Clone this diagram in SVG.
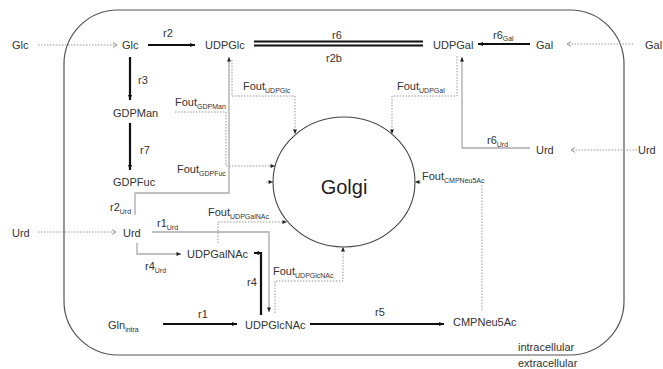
<svg xmlns="http://www.w3.org/2000/svg" width="663" height="369" viewBox="0 0 663 369">
<defs>
<style>
text{font-family:"Liberation Sans",Arial,sans-serif;font-size:11px;fill:#333}
.sub{font-size:7px}
.rx{stroke:#111;stroke-width:2.2;fill:none}
.gr{stroke:#aaa;stroke-width:1.3;fill:none}
.dt{stroke:#999;stroke-width:1;stroke-dasharray:1.5 1.5;fill:none}
</style>
<marker id="ah" markerUnits="userSpaceOnUse" markerWidth="7" markerHeight="7" viewBox="0 0 7 7" refX="6.5" refY="3.5" orient="auto"><path d="M1.5,1.5 L6.5,3.5 L1.5,5.5 Z" fill="#111"/></marker>
<marker id="as" markerUnits="userSpaceOnUse" markerWidth="6" markerHeight="6" viewBox="0 0 6 6" refX="5.5" refY="3" orient="auto"><path d="M1,1 L5.5,3 L1,5 Z" fill="#222"/></marker>
<marker id="ch" markerUnits="userSpaceOnUse" markerWidth="8" markerHeight="8" viewBox="0 0 8 8" refX="6" refY="4" orient="auto"><path d="M2,1.5 L6,4 L2,6.5" fill="none" stroke="#999" stroke-width="1"/></marker>
</defs>
<rect width="663" height="369" fill="#fff"/>
<rect id="cell" x="64" y="10" width="560" height="345" rx="54" ry="54" fill="#fff" stroke="#555" stroke-width="1.2"/>
<g id="connectors">
<line class="rx" x1="148" y1="45" x2="195" y2="45" marker-end="url(#ah)"/>
<line class="rx" x1="130" y1="57" x2="130" y2="100" marker-end="url(#ah)"/>
<line class="rx" x1="130" y1="123" x2="130" y2="170" marker-end="url(#ah)"/>
<line stroke="#111" stroke-width="2" x1="254" y1="41.5" x2="423" y2="41.5"/>
<line stroke="#111" stroke-width="2" x1="254" y1="45.5" x2="423" y2="45.5"/>
<line class="rx" x1="530" y1="44" x2="478" y2="44" marker-end="url(#ah)"/>
<path class="rx" d="M261,315 V253 H254" marker-end="url(#ah)"/>
<line class="rx" x1="163" y1="324" x2="237" y2="324" marker-end="url(#ah)"/>
<line class="rx" x1="310" y1="324" x2="444" y2="324" marker-end="url(#ah)"/>
<path class="gr" d="M135,215 V193 H229 V57" marker-end="url(#as)"/>
<path class="gr" d="M152,232 H269 V312" marker-end="url(#as)"/>
<path class="gr" d="M137,243 V254 H181" marker-end="url(#as)"/>
<path class="gr" d="M530,148 H462 V57" marker-end="url(#as)"/>
<path class="dt" d="M232,60 V96 H295 V134" marker-end="url(#as)"/>
<path class="dt" d="M457,56 V96 H392 V134" marker-end="url(#as)"/>
<path class="dt" d="M175,112 H226 V166 H275" marker-end="url(#as)"/>
<path class="dt" d="M266,182 H273" marker-end="url(#as)"/>
<path class="dt" d="M218,243 V222 H287" marker-end="url(#as)"/>
<path class="dt" d="M275,313 V281 H343 V247" marker-end="url(#as)"/>
<path class="dt" d="M482,310 V185"/>
<path class="dt" d="M421,182 H415" marker-end="url(#as)"/>
<line class="dt" x1="38" y1="45" x2="117" y2="45" marker-end="url(#ch)"/>
<line class="dt" x1="633" y1="44" x2="567" y2="44" marker-end="url(#ch)"/>
<line class="dt" x1="38" y1="232" x2="116" y2="232" marker-end="url(#ch)"/>
<line class="dt" x1="637" y1="150" x2="571" y2="150" marker-end="url(#ch)"/>
</g>
<g id="golgi"><ellipse cx="344" cy="182" rx="71" ry="65" fill="#fff" stroke="#444" stroke-width="1.1"/><text x="344" y="194" text-anchor="middle" style="font-size:20px;fill:#222">Golgi</text></g>
<g id="glc-ext"><text x="12" y="49">Glc</text></g>
<g id="glc"><text x="122" y="49">Glc</text></g>
<g id="udpglc"><text x="205" y="49">UDPGlc</text></g>
<g id="udpgal"><text x="433" y="49">UDPGal</text></g>
<g id="gal"><text x="536" y="49">Gal</text></g>
<g id="gal-ext"><text x="645" y="49">Gal</text></g>
<g id="gdpman"><text x="113" y="117">GDPMan</text></g>
<g id="gdpfuc"><text x="113" y="186">GDPFuc</text></g>
<g id="urd-ext"><text x="12" y="237">Urd</text></g>
<g id="urd"><text x="123" y="237">Urd</text></g>
<g id="urd-r"><text x="536" y="154">Urd</text></g>
<g id="urd-r-ext"><text x="638" y="154">Urd</text></g>
<g id="udpgalnac"><text x="187" y="258">UDPGalNAc</text></g>
<g id="udpglcnac"><text x="245" y="329">UDPGlcNAc</text></g>
<g id="gln"><text x="108" y="329">Gln<tspan class="sub" dy="3">intra</tspan></text></g>
<g id="cmp"><text x="453" y="326">CMPNeu5Ac</text></g>
<g id="labels">
<text x="163" y="37">r2</text>
<text x="337" y="39" text-anchor="middle">r6</text>
<text x="334" y="62" text-anchor="middle">r2b</text>
<text x="493" y="39">r6<tspan class="sub" dy="2">Gal</tspan></text>
<text x="138" y="84">r3</text>
<text x="140" y="154">r7</text>
<text x="175" y="106">Fout<tspan class="sub" dy="3">GDPMan</tspan></text>
<text x="177" y="173">Fout<tspan class="sub" dy="3">GDPFuc</tspan></text>
<text x="243" y="90">Fout<tspan class="sub" dy="3">UDPGlc</tspan></text>
<text x="397" y="90">Fout<tspan class="sub" dy="3">UDPGal</tspan></text>
<text x="487" y="144">r6<tspan class="sub" dy="3">Urd</tspan></text>
<text x="422" y="180">Fout<tspan class="sub" dy="3">CMPNeu5Ac</tspan></text>
<text x="110" y="211">r2<tspan class="sub" dy="3">Urd</tspan></text>
<text x="157" y="227">r1<tspan class="sub" dy="3">Urd</tspan></text>
<text x="208" y="216">Fout<tspan class="sub" dy="3">UDPGalNAc</tspan></text>
<text x="145" y="270">r4<tspan class="sub" dy="3">Urd</tspan></text>
<text x="247" y="286">r4</text>
<text x="273" y="275">Fout<tspan class="sub" dy="3">UDPGlcNAc</tspan></text>
<text x="198" y="318">r1</text>
<text x="375" y="316">r5</text>
<text x="518" y="351">intracellular</text>
<text x="518" y="367">extracellular</text>
</g>
</svg>
